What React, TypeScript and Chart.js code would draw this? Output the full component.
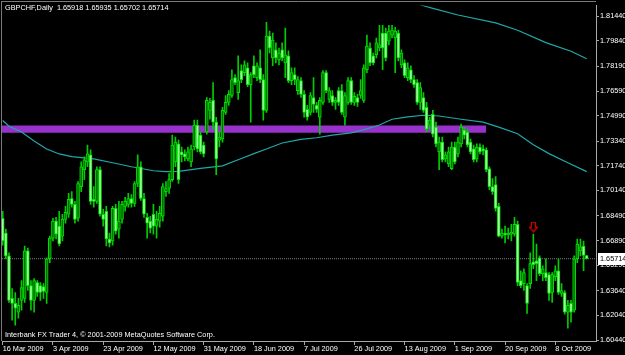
import React, { useEffect, useRef } from 'react';
import { Chart, registerables } from 'chart.js';

Chart.register(...registerables);

// ---------- data ----------
const SYMBOL = 'GBPCHF';
const PERIOD = 'Daily';
const COPYRIGHT = 'Interbank FX Trader 4, \u00A9 2001-2009 MetaQuotes Software Corp.';

const OPEN = [
  1.6834, 1.6738, 1.6590, 1.6314, 1.6282, 1.6224, 1.6301, 1.6314, 1.6622, 1.6397,
  1.6301, 1.6416, 1.6397, 1.6391, 1.6352, 1.6571, 1.6705, 1.6815, 1.6783, 1.6718,
  1.6827, 1.6860, 1.6962, 1.6924, 1.6834, 1.7039, 1.7149, 1.7200, 1.7245, 1.6956,
  1.6943, 1.7149, 1.6860, 1.6879, 1.6699, 1.6686, 1.6898, 1.6763, 1.6827, 1.6911,
  1.6924, 1.6962, 1.6930, 1.7059, 1.7168, 1.6962, 1.6840, 1.6815, 1.6860, 1.6783,
  1.6815, 1.6847, 1.7007, 1.7027, 1.7084, 1.7200, 1.7316, 1.7264, 1.7251, 1.7219,
  1.7200, 1.7296, 1.7438, 1.7373, 1.7309, 1.7393, 1.7534, 1.7598, 1.7457, 1.7341,
  1.7348, 1.7521, 1.7585, 1.7630, 1.7746, 1.7649, 1.7791, 1.7778, 1.7810, 1.7701,
  1.7823, 1.7746, 1.7810, 1.7733, 1.7534, 1.8016, 1.7874, 1.7926, 1.7861, 1.7926,
  1.7842, 1.7887, 1.7727, 1.7765, 1.7662, 1.7727, 1.7637, 1.7540, 1.7521, 1.7617,
  1.7566, 1.7489, 1.7585, 1.7778, 1.7604, 1.7630, 1.7585, 1.7662, 1.7662, 1.7489,
  1.7585, 1.7727, 1.7585, 1.7617, 1.7630, 1.7598, 1.7797, 1.7938, 1.7887, 1.7894,
  1.7938, 1.8035, 1.8035, 1.7983, 1.8022, 1.8003, 1.8035, 1.7829, 1.7842, 1.7746,
  1.7797, 1.7733, 1.7714, 1.7585, 1.7617, 1.7553, 1.7438, 1.7508, 1.7425, 1.7264,
  1.7328, 1.7219, 1.7187, 1.7155, 1.7296, 1.7251, 1.7316, 1.7406, 1.7393, 1.7328,
  1.7284, 1.7219, 1.7296, 1.7284, 1.7277, 1.7155, 1.7039, 1.7052, 1.6911, 1.6718,
  1.6738, 1.6725, 1.6731, 1.6731, 1.6795, 1.6429, 1.6410, 1.6397, 1.6410, 1.6551,
  1.6558, 1.6577, 1.6474, 1.6481, 1.6468, 1.6352, 1.6455, 1.6493, 1.6346, 1.6352,
  1.6224, 1.6282, 1.6237, 1.6571, 1.6622, 1.6654, 1.65918,
];
const HIGH = [
  1.6879, 1.6763, 1.6609, 1.6378, 1.6352, 1.6314, 1.6429, 1.6654, 1.6641, 1.6429,
  1.6442, 1.6429, 1.6416, 1.6410, 1.6577, 1.6718, 1.6834, 1.6840, 1.6879, 1.6860,
  1.6911, 1.6995, 1.7007, 1.6943, 1.7072, 1.7200, 1.7232, 1.7309, 1.7277, 1.7039,
  1.7168, 1.7168, 1.6892, 1.6911, 1.6738, 1.6911, 1.6924, 1.6943, 1.6943, 1.6969,
  1.6995, 1.6988, 1.7072, 1.7245, 1.7200, 1.6995, 1.6866, 1.6847, 1.6924, 1.6879,
  1.6911, 1.7059, 1.7072, 1.7123, 1.7373, 1.7361, 1.7341, 1.7296, 1.7277, 1.7296,
  1.7309, 1.7470, 1.7470, 1.7393, 1.7328, 1.7617, 1.7611, 1.7714, 1.7489, 1.7393,
  1.7553, 1.7630, 1.7662, 1.7797, 1.7765, 1.7887, 1.7829, 1.7855, 1.7842, 1.7778,
  1.7887, 1.7842, 1.7926, 1.7765, 1.8105, 1.8048, 1.8035, 1.7971, 1.7938, 1.7971,
  1.8067, 1.7919, 1.7810, 1.7810, 1.7752, 1.7746, 1.7662, 1.7566, 1.7649, 1.7746,
  1.7585, 1.7617, 1.7791, 1.7791, 1.7682, 1.7662, 1.7617, 1.7682, 1.7701, 1.7649,
  1.7746, 1.7746, 1.7649, 1.7637, 1.7733, 1.7829, 1.8022, 1.7971, 1.7906, 1.8003,
  1.8086, 1.8086, 1.8067, 1.8086, 1.8086, 1.8073, 1.8054, 1.7926, 1.7861, 1.7842,
  1.7823, 1.7759, 1.7733, 1.7714, 1.7649, 1.7585, 1.7489, 1.7534, 1.7457, 1.7361,
  1.7361, 1.7264, 1.7296, 1.7328, 1.7328, 1.7361, 1.7444, 1.7425, 1.7412, 1.7348,
  1.7309, 1.7316, 1.7316, 1.7309, 1.7290, 1.7168, 1.7091, 1.7104, 1.6930, 1.6763,
  1.6783, 1.6770, 1.6795, 1.6840, 1.6815, 1.6493, 1.6506, 1.6410, 1.6609, 1.6731,
  1.6667, 1.6590, 1.6526, 1.6571, 1.6481, 1.6481, 1.6526, 1.6571, 1.6410, 1.6365,
  1.6301, 1.6301, 1.6590, 1.6699, 1.6699, 1.6686, 1.65935,
];
const LOW = [
  1.6660, 1.6571, 1.6288, 1.6172, 1.6140, 1.6185, 1.6237, 1.6288, 1.6365, 1.6237,
  1.6224, 1.6327, 1.6301, 1.6314, 1.6282, 1.6545, 1.6686, 1.6699, 1.6654, 1.6686,
  1.6802, 1.6840, 1.6905, 1.6802, 1.6815, 1.7007, 1.7084, 1.7168, 1.6924, 1.6905,
  1.6930, 1.6847, 1.6783, 1.6654, 1.6648, 1.6660, 1.6731, 1.6705, 1.6802, 1.6879,
  1.6905, 1.6905, 1.6911, 1.7039, 1.6950, 1.6840, 1.6705, 1.6738, 1.6731, 1.6705,
  1.6776, 1.6815, 1.6975, 1.6995, 1.7072, 1.7168, 1.7059, 1.7200, 1.7206, 1.7206,
  1.7168, 1.7277, 1.7264, 1.7251, 1.7232, 1.7380, 1.7476, 1.7412, 1.7116, 1.7296,
  1.7328, 1.7508, 1.7566, 1.7617, 1.7701, 1.7605, 1.7714, 1.7759, 1.7688, 1.7457,
  1.7746, 1.7727, 1.7714, 1.7470, 1.7521, 1.7906, 1.7823, 1.7842, 1.7829, 1.7855,
  1.7746, 1.7714, 1.7701, 1.7701, 1.7637, 1.7617, 1.7489, 1.7470, 1.7502, 1.7521,
  1.7521, 1.7380, 1.7572, 1.7649, 1.7585, 1.7566, 1.7540, 1.7566, 1.7508, 1.7438,
  1.7572, 1.7572, 1.7566, 1.7560, 1.7611, 1.7585, 1.7778, 1.7823, 1.7829, 1.7874,
  1.7919, 1.7797, 1.7855, 1.7958, 1.8003, 1.7778, 1.7855, 1.7810, 1.7746, 1.7727,
  1.7714, 1.7682, 1.7572, 1.7540, 1.7521, 1.7393, 1.7412, 1.7361, 1.7296, 1.7149,
  1.7200, 1.7200, 1.7168, 1.7149, 1.7187, 1.7232, 1.7296, 1.7348, 1.7296, 1.7251,
  1.7200, 1.7200, 1.7251, 1.7245, 1.7136, 1.7020, 1.6988, 1.6879, 1.6712, 1.6705,
  1.6673, 1.6699, 1.6686, 1.6718, 1.6397, 1.6384, 1.6365, 1.6217, 1.6378, 1.6506,
  1.6429, 1.6461, 1.6429, 1.6429, 1.6301, 1.6288, 1.6429, 1.6340, 1.6327, 1.6211,
  1.6121, 1.6160, 1.6224, 1.6545, 1.6590, 1.6493, 1.65702,
];
const CLOSE = [
  1.6686, 1.6590, 1.6301, 1.6282, 1.6250, 1.6269, 1.6384, 1.6622, 1.6397, 1.6301,
  1.6429, 1.6352, 1.6352, 1.6359, 1.6571, 1.6705, 1.6815, 1.6731, 1.6667, 1.6827,
  1.6872, 1.6956, 1.6924, 1.6827, 1.7059, 1.7168, 1.7213, 1.7251, 1.6943, 1.6943,
  1.7149, 1.6860, 1.6827, 1.6699, 1.6673, 1.6898, 1.6750, 1.6815, 1.6924, 1.6943,
  1.6962, 1.6930, 1.7059, 1.7168, 1.6962, 1.6860, 1.6802, 1.6770, 1.6783, 1.6827,
  1.6866, 1.7039, 1.7027, 1.7084, 1.7309, 1.7328, 1.7084, 1.7245, 1.7232, 1.7264,
  1.7284, 1.7438, 1.7284, 1.7264, 1.7251, 1.7598, 1.7585, 1.7457, 1.7219, 1.7361,
  1.7534, 1.7585, 1.7637, 1.7733, 1.7714, 1.7727, 1.7733, 1.7829, 1.7701, 1.7765,
  1.7765, 1.7823, 1.7733, 1.7534, 1.8016, 1.7938, 1.7990, 1.7874, 1.7906, 1.7874,
  1.7894, 1.7727, 1.7778, 1.7733, 1.7733, 1.7637, 1.7521, 1.7489, 1.7630, 1.7572,
  1.7540, 1.7598, 1.7778, 1.7662, 1.7662, 1.7585, 1.7598, 1.7585, 1.7521, 1.7630,
  1.7727, 1.7585, 1.7624, 1.7585, 1.7662, 1.7810, 1.7951, 1.7842, 1.7842, 1.7971,
  1.7958, 1.7938, 1.7874, 1.8048, 1.8054, 1.8048, 1.7874, 1.7906, 1.7759, 1.7810,
  1.7733, 1.7701, 1.7585, 1.7682, 1.7534, 1.7412, 1.7470, 1.7380, 1.7316, 1.7328,
  1.7213, 1.7245, 1.7264, 1.7296, 1.7200, 1.7328, 1.7425, 1.7373, 1.7309, 1.7264,
  1.7213, 1.7296, 1.7264, 1.7271, 1.7149, 1.7039, 1.7007, 1.6898, 1.6718, 1.6738,
  1.6725, 1.6738, 1.6744, 1.6795, 1.6417, 1.6397, 1.6481, 1.6282, 1.6539, 1.6532,
  1.6539, 1.6474, 1.6506, 1.6449, 1.6346, 1.6468, 1.6493, 1.6352, 1.6365, 1.6224,
  1.6269, 1.6224, 1.6571, 1.6667, 1.6648, 1.6592, 1.65714,
];

// moving averages: bar index and value
const MA_SLOW_X = [128, 134, 137, 145, 157, 164, 173, 181, 186];
const MA_SLOW_Y = [1.8250, 1.8212, 1.8195, 1.8152, 1.8101, 1.8053, 1.7973, 1.7917, 1.7868];
const MA_FAST_X = [0, 2, 6, 10, 14, 18, 22, 29, 35, 41, 48, 52, 56, 63, 70, 76, 80, 84, 89, 95,
  100, 105, 111, 116, 120, 124, 129, 134, 139, 146, 153, 158, 164, 169, 174, 180, 186];
const MA_FAST_Y = [1.7468, 1.7431, 1.7393, 1.7335, 1.7283, 1.7251, 1.7234, 1.7219, 1.7194, 1.7168,
  1.7142, 1.7136, 1.7138, 1.7157, 1.7174, 1.7221, 1.7253, 1.7283, 1.7322, 1.7346,
  1.7356, 1.7373, 1.7388, 1.7414, 1.7439, 1.7476, 1.7491, 1.7502, 1.7497, 1.7476,
  1.7457, 1.7425, 1.7382, 1.7311, 1.7253, 1.7194, 1.7136];

// rectangle object
const ZONE_START = -1;
const ZONE_END = 154;
const ZONE_TOP = 1.7436;
const ZONE_BOTTOM = 1.7388;

// arrow object
const ARROW_INDEX = 169;
const ARROW_PRICE = 1.6776;

// axes
const DATE_TICK_INDEX = [0, 16, 32, 48, 64, 80, 96, 112, 128, 144, 160, 176];
const DATE_LABELS = ['16 Mar 2009', '3 Apr 2009', '23 Apr 2009', '12 May 2009', '31 May 2009', '18 Jun 2009',
  '7 Jul 2009', '26 Jul 2009', '13 Aug 2009', '1 Sep 2009', '20 Sep 2009', '8 Oct 2009'];
const PRICE_TICKS = [1.8144, 1.7984, 1.7819, 1.7659, 1.7499, 1.7334, 1.7174, 1.7014, 1.6849, 1.6689,
  1.6529, 1.6364, 1.6204, 1.6044];
const X_MIN = -0.223;
const X_MAX = 188.96;
const Y_MIN = 1.60376;
const Y_MAX = 1.82146;

// ---------- styles ----------
const FONT = '"Liberation Sans", Arial, sans-serif';
const FS = 7.3;
const BULL_FILL = '#006e00';
const BEAR_FILL = '#9dff9d';
const CANDLE_EDGE = '#00e000';
const WICK = '#00cc00';
const MA_COLOR = '#20a8a8';
const ZONE_COLOR = '#9932CC';
const AXIS_COLOR = '#a8a8a8';

function makeArrow(): HTMLCanvasElement {
  const c = document.createElement('canvas');
  c.width = 9;
  c.height = 11;
  const g = c.getContext('2d')!;
  g.fillStyle = '#000';
  g.strokeStyle = '#e00000';
  g.lineWidth = 1.2;
  g.beginPath();
  g.moveTo(2.5, 0.5);
  g.lineTo(6.5, 0.5);
  g.lineTo(6.5, 5.5);
  g.lineTo(8.5, 5.5);
  g.lineTo(4.5, 10);
  g.lineTo(0.5, 5.5);
  g.lineTo(2.5, 5.5);
  g.closePath();
  g.fill();
  g.stroke();
  return c;
}

const overlay = {
  id: 'mt4overlay',
  beforeDraw(chart: any) {
    const { ctx, width, height } = chart;
    ctx.save();
    ctx.fillStyle = '#000';
    ctx.fillRect(0, 0, width, height);
    ctx.restore();
  },
  afterDraw(chart: any) {
    const { ctx, chartArea, scales, width } = chart;
    ctx.save();
    // frame
    ctx.strokeStyle = '#7a7a7a';
    ctx.lineWidth = 1;
    ctx.beginPath();
    ctx.moveTo(1, 1.5);
    ctx.lineTo(chartArea.right, 1.5);
    ctx.moveTo(1.5, 1);
    ctx.lineTo(1.5, chartArea.bottom);
    ctx.stroke();
    // texts
    const n = CLOSE.length - 1;
    ctx.fillStyle = '#ffffff';
    ctx.font = `${FS}px ${FONT}`;
    ctx.textBaseline = 'alphabetic';
    ctx.textAlign = 'left';
    const title = `${SYMBOL},${PERIOD}  ${OPEN[n].toFixed(5)} ${HIGH[n].toFixed(5)} ${LOW[n].toFixed(5)} ${CLOSE[n].toFixed(5)}`;
    ctx.fillText(title, 5, 10);
    ctx.fillText(COPYRIGHT, 5, 337);
    // current price label
    const y = scales.y.getPixelForValue(CLOSE[n]);
    ctx.fillStyle = '#ffffff';
    ctx.fillRect(chartArea.right + 2, Math.round(y) - 6, width - chartArea.right - 2, 12);
    ctx.fillStyle = '#000000';
    ctx.textBaseline = 'middle';
    ctx.fillText(CLOSE[n].toFixed(5), chartArea.right + 4, y);
    ctx.restore();
  },
};

export default function App() {
  const ref = useRef<HTMLCanvasElement>(null);

  useEffect(() => {
    document.body.style.margin = '0';
    document.body.style.background = '#000';
    const idx = CLOSE.map((_, i) => i);
    const wickData = idx.map((i) => ({ x: i, y: [LOW[i], HIGH[i]] }));
    const bodyData = idx.map((i) => ({ x: i, y: [OPEN[i], CLOSE[i]] }));
    const bodyColors = idx.map((i) => (CLOSE[i] >= OPEN[i] ? BULL_FILL : BEAR_FILL));
    const last = CLOSE[CLOSE.length - 1];

    const chart = new Chart(ref.current as HTMLCanvasElement, {
      type: 'bar',
      data: {
        datasets: [
          {
            type: 'line',
            data: [{ x: ZONE_START, y: ZONE_BOTTOM }, { x: ZONE_END, y: ZONE_BOTTOM }],
            borderWidth: 0,
            pointRadius: 0,
            order: 20,
          } as any,
          {
            type: 'line',
            data: [{ x: ZONE_START, y: ZONE_TOP }, { x: ZONE_END, y: ZONE_TOP }],
            borderWidth: 0,
            pointRadius: 0,
            fill: '-1',
            backgroundColor: ZONE_COLOR,
            order: 19,
          } as any,
          {
            type: 'line',
            data: [{ x: X_MIN, y: last }, { x: X_MAX, y: last }],
            borderColor: '#7c7c7c',
            borderWidth: 1,
            borderDash: [1, 1],
            pointRadius: 0,
            order: 18,
          } as any,
          {
            type: 'line',
            data: MA_SLOW_X.map((x, i) => ({ x, y: MA_SLOW_Y[i] })),
            borderColor: MA_COLOR,
            borderWidth: 1.2,
            pointRadius: 0,
            order: 17,
          } as any,
          {
            type: 'line',
            data: MA_FAST_X.map((x, i) => ({ x, y: MA_FAST_Y[i] })),
            borderColor: MA_COLOR,
            borderWidth: 1.2,
            pointRadius: 0,
            order: 16,
          } as any,
          {
            type: 'bar',
            data: wickData,
            backgroundColor: WICK,
            barThickness: 1,
            grouped: false,
            order: 5,
          } as any,
          {
            type: 'bar',
            data: bodyData,
            backgroundColor: bodyColors,
            borderColor: CANDLE_EDGE,
            borderWidth: 1,
            borderSkipped: false,
            barThickness: 3,
            minBarLength: 1,
            grouped: false,
            order: 4,
          } as any,
          {
            type: 'line',
            data: [{ x: ARROW_INDEX, y: ARROW_PRICE }],
            showLine: false,
            pointStyle: makeArrow(),
            pointRadius: 5,
            order: 1,
          } as any,
        ],
      },
      options: {
        animation: false,
        responsive: false,
        devicePixelRatio: 1,
        events: [],
        layout: { autoPadding: false, padding: { left: 2, top: 2, right: 0, bottom: 0 } },
        plugins: { legend: { display: false }, tooltip: { enabled: false } },
        scales: {
          x: {
            type: 'linear',
            position: 'bottom',
            min: X_MIN,
            max: X_MAX,
            offset: false,
            afterFit: (s: any) => {
              s.height = 14;
            },
            afterBuildTicks: (s: any) => {
              s.ticks = DATE_TICK_INDEX.map((v) => ({ value: v }));
            },
            ticks: {
              autoSkip: false,
              maxRotation: 0,
              align: 'start',
              padding: 0,
              color: '#ffffff',
              font: { family: FONT, size: FS },
              callback: (v: any) => {
                const k = DATE_TICK_INDEX.indexOf(Number(v));
                return k >= 0 ? DATE_LABELS[k] : '';
              },
            },
            grid: { drawOnChartArea: false, drawTicks: true, tickLength: 4, color: AXIS_COLOR, offset: false },
            border: { display: true, color: AXIS_COLOR },
          },
          y: {
            type: 'linear',
            position: 'right',
            min: Y_MIN,
            max: Y_MAX,
            afterFit: (s: any) => {
              s.width = 29;
            },
            afterBuildTicks: (s: any) => {
              s.ticks = PRICE_TICKS.map((v) => ({ value: v }));
            },
            ticks: {
              padding: 1,
              color: '#ffffff',
              font: { family: FONT, size: FS },
              callback: (v: any) => Number(v).toFixed(5),
            },
            grid: { drawOnChartArea: false, drawTicks: true, tickLength: 3, color: AXIS_COLOR },
            border: { display: true, color: AXIS_COLOR },
          },
        },
      } as any,
      plugins: [overlay],
    });
    return () => chart.destroy();
  }, []);

  return (
    <div style={{ width: 625, height: 355, background: '#000' }}>
      <canvas ref={ref} width={625} height={355} style={{ display: 'block' }} />
    </div>
  );
}
